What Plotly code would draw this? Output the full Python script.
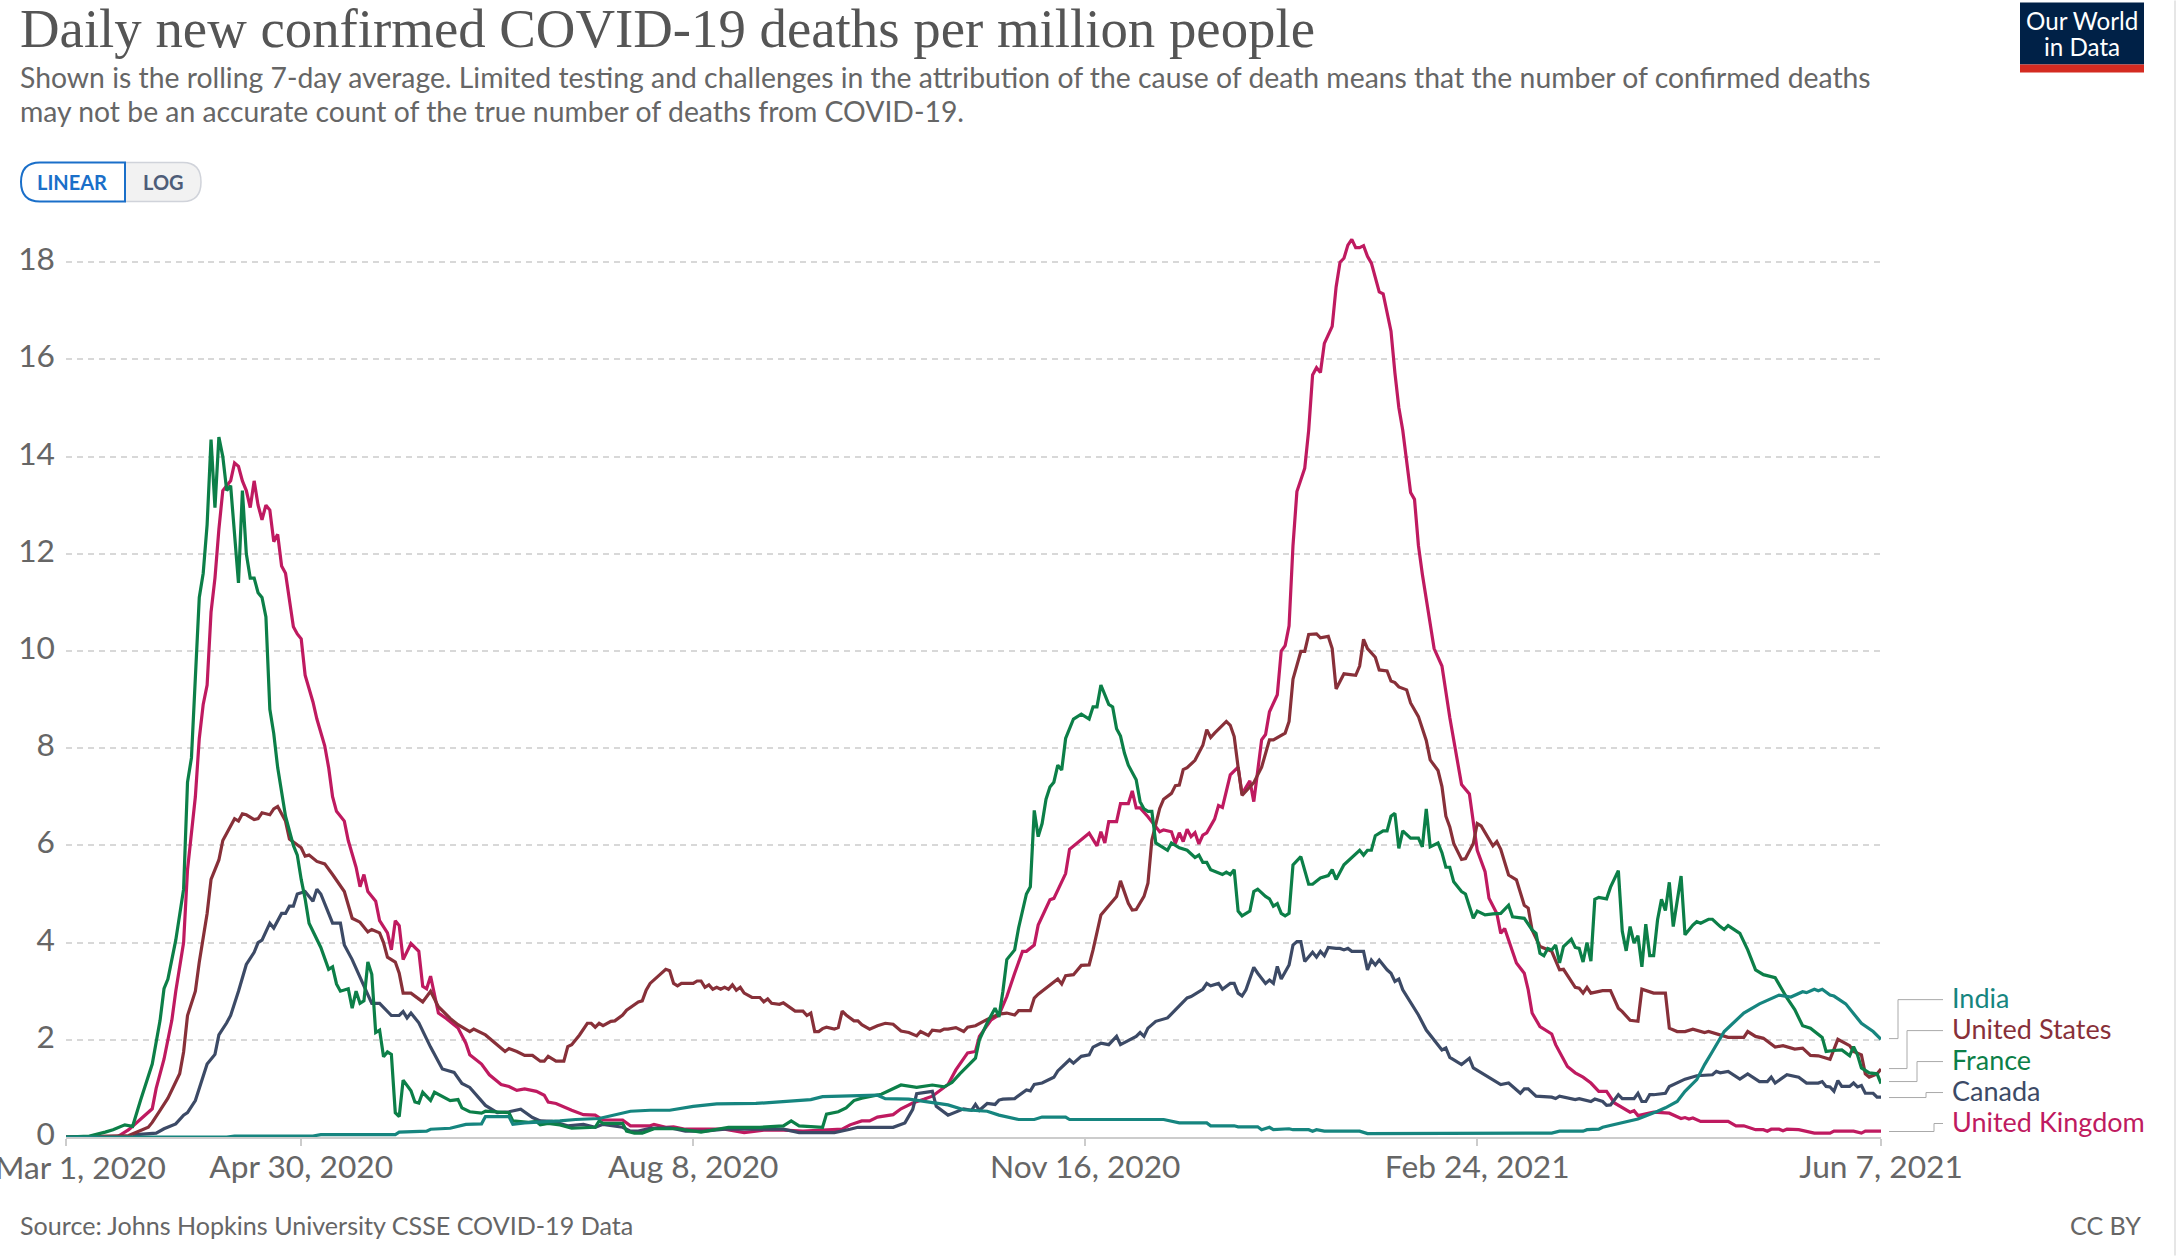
import pandas as pd
import plotly.graph_objects as go

W, H = 2178, 1256
LEFT, RIGHT, ZERO_Y, UNIT = 66, 1881, 1137.5, 48.65
Y_MAX = 18.6

START = "2020-03-01"
END = "2021-06-07"

y_ticks = [0, 2, 4, 6, 8, 10, 12, 14, 16, 18]
x_ticks = ["2020-03-01", "2020-04-30", "2020-08-08", "2020-11-16", "2021-02-24", "2021-06-07"]
x_labels = ["Mar 1, 2020", "Apr 30, 2020", "Aug 8, 2020", "Nov 16, 2020", "Feb 24, 2021", "Jun 7, 2021"]

# (days since Mar 1 2020, deaths per million)
india = [
    (0, 0), (41, 0), (43, 0.02), (63, 0.02), (65, 0.05), (84, 0.05), (85, 0.1), (92, 0.12), (93, 0.16), (98, 0.18),
    (102, 0.26), (106, 0.27), (107, 0.42), (113, 0.42), (114, 0.26), (117, 0.29), (126, 0.33), (130, 0.36),
    (136, 0.38), (140, 0.45), (144, 0.53), (149, 0.55), (154, 0.55), (160, 0.63), (166, 0.68), (176, 0.69),
    (178, 0.7), (183, 0.72), (190, 0.77), (193, 0.83), (198, 0.84), (202, 0.86), (207, 0.86), (209, 0.79),
    (215, 0.78), (225, 0.66), (229, 0.56), (235, 0.53), (238, 0.45), (243, 0.36), (247, 0.36), (249, 0.41),
    (255, 0.41), (256, 0.36), (280, 0.36), (284, 0.29), (291, 0.29), (292, 0.23), (298, 0.23), (299, 0.21),
    (304, 0.21), (305, 0.15), (307, 0.2), (308, 0.15), (312, 0.17), (313, 0.15), (317, 0.15), (318, 0.12),
    (319, 0.15), (321, 0.12), (330, 0.12), (332, 0.07), (379, 0.08), (381, 0.12), (387, 0.12), (388, 0.15),
    (391, 0.16), (392, 0.2), (396, 0.27), (398, 0.32), (401, 0.37), (406, 0.53), (408, 0.6), (411, 0.73),
    (413, 0.94), (416, 1.18), (418, 1.49), (420, 1.76), (423, 2.17), (428, 2.55), (432, 2.74), (437, 2.92),
    (440, 2.88), (443, 2.99), (444, 2.97), (446, 3.04), (447, 3.01), (448, 3.04), (450, 2.92), (451, 2.9),
    (454, 2.74), (458, 2.34), (461, 2.17), (463, 2.01),
]

united_states = [
    (0, 0), (16, 0.03), (21, 0.2), (22, 0.3), (24, 0.55), (26, 0.8), (29, 1.3), (30, 1.75), (31, 2.5), (33, 3.0),
    (34, 3.6), (36, 4.6), (37, 5.3), (39, 5.7), (40, 6.1), (42, 6.4), (43, 6.55), (44, 6.5), (45, 6.65), (46, 6.63),
    (48, 6.53), (49, 6.55), (50, 6.67), (52, 6.63), (53, 6.75), (54, 6.8), (56, 6.5), (57, 6.13), (60, 5.95),
    (61, 5.78), (62, 5.8), (64, 5.67), (66, 5.62), (68, 5.4), (71, 5.05), (73, 4.5), (75, 4.42), (77, 4.22),
    (78, 4.27), (80, 4.2), (81, 4.0), (82, 3.7), (84, 3.6), (85, 3.37), (86, 2.96), (88, 2.96), (91, 2.78), (93, 3.0),
    (95, 2.68), (98, 2.44), (100, 2.31), (103, 2.17), (104, 2.22), (107, 2.1), (109, 1.97), (112, 1.76), (113, 1.82),
    (115, 1.76), (117, 1.68), (119, 1.68), (121, 1.56), (122, 1.56), (123, 1.66), (125, 1.56), (127, 1.56),
    (128, 1.86), (129, 1.9), (131, 2.1), (133, 2.34), (134, 2.34), (135, 2.26), (136, 2.34), (137, 2.29), (139, 2.38),
    (140, 2.39), (142, 2.51), (143, 2.61), (146, 2.78), (147, 2.8), (148, 3.02), (149, 3.16), (151, 3.3), (153, 3.45),
    (154, 3.42), (155, 3.16), (156, 3.11), (157, 3.16), (160, 3.16), (161, 3.21), (162, 3.21), (163, 3.08), (164, 3.13),
    (165, 3.04), (166, 3.08), (167, 3.04), (168, 3.08), (169, 3.04), (170, 3.13), (171, 3.02), (172, 3.08), (173, 2.96),
    (175, 2.87), (177, 2.87), (178, 2.78), (179, 2.84), (180, 2.75), (182, 2.73), (183, 2.76), (185, 2.65), (186, 2.59),
    (188, 2.59), (189, 2.5), (190, 2.55), (191, 2.17), (192, 2.17), (193, 2.23), (194, 2.26), (196, 2.22), (197, 2.25),
    (198, 2.59), (199, 2.51), (201, 2.39), (202, 2.39), (203, 2.31), (205, 2.22), (207, 2.29), (209, 2.34), (211, 2.32),
    (213, 2.18), (215, 2.15), (217, 2.08), (218, 2.17), (220, 2.09), (221, 2.2), (223, 2.18), (224, 2.22), (225, 2.22),
    (227, 2.25), (229, 2.17), (230, 2.26), (232, 2.29), (235, 2.42), (238, 2.53), (240, 2.55), (242, 2.51), (243, 2.6),
    (246, 2.6), (247, 2.86), (248, 2.94), (251, 3.13), (253, 3.25), (254, 3.15), (255, 3.32), (257, 3.34), (259, 3.53),
    (261, 3.54), (262, 3.85), (264, 4.57), (268, 4.95), (269, 5.27), (271, 4.81), (272, 4.67), (273, 4.68), (275, 4.95),
    (276, 5.22), (277, 6.11), (279, 6.76), (280, 6.95), (282, 7.07), (283, 7.23), (284, 7.24), (285, 7.56), (286, 7.6),
    (288, 7.75), (290, 8.06), (291, 8.38), (292, 8.22), (293, 8.31), (294, 8.39), (296, 8.55), (297, 8.47), (298, 8.24),
    (299, 7.61), (300, 7.03), (303, 7.29), (305, 7.61), (307, 8.17), (308, 8.17), (311, 8.31), (312, 8.55), (313, 9.42),
    (315, 9.99), (316, 9.99), (317, 10.34), (319, 10.35), (320, 10.27), (322, 10.3), (323, 10.05), (324, 9.22),
    (326, 9.53), (329, 9.5), (330, 9.69), (331, 10.24), (332, 10.05), (334, 9.87), (335, 9.61), (337, 9.59), (338, 9.38),
    (339, 9.35), (340, 9.26), (342, 9.2), (343, 8.93), (345, 8.65), (347, 8.16), (348, 7.76), (350, 7.54), (351, 7.21),
    (352, 6.6), (353, 6.38), (354, 6.04), (356, 5.71), (357, 5.73), (359, 6.04), (360, 6.45), (361, 6.4), (363, 6.11),
    (364, 5.99), (365, 6.08), (366, 5.92), (368, 5.39), (370, 5.29), (372, 4.77), (373, 4.71), (374, 4.26), (376, 3.92),
    (379, 3.82), (381, 3.44), (382, 3.45), (384, 3.2), (385, 3.08), (386, 3.06), (387, 2.96), (388, 3.08), (389, 2.96),
    (392, 3.01), (394, 3.01), (396, 2.65), (397, 2.58), (399, 2.4), (401, 2.38), (402, 3.04), (404, 2.99), (405, 2.96),
    (408, 2.96), (409, 2.24), (411, 2.17), (413, 2.17), (415, 2.22), (418, 2.15), (419, 2.17), (421, 2.12), (424, 2.05),
    (428, 2.05), (429, 2.17), (431, 2.07), (433, 2.03), (436, 1.85), (438, 1.88), (441, 1.81), (443, 1.83), (445, 1.68),
    (447, 1.67), (450, 1.6), (452, 2.01), (455, 1.88), (456, 1.76), (458, 1.69), (459, 1.3), (460, 1.23), (462, 1.3),
    (463, 1.4),
]

france = [
    (0, 0), (6, 0.02), (10, 0.1), (12, 0.15), (15, 0.25), (17, 0.22), (19, 0.75), (22, 1.5), (24, 2.4), (25, 3.05),
    (26, 3.25), (28, 4.05), (30, 5.1), (31, 7.3), (32, 7.8), (33, 9.3), (34, 11.1), (35, 11.6), (36, 12.6), (37, 14.35),
    (38, 12.95), (39, 14.4), (40, 14.0), (41, 13.3), (42, 13.4), (44, 11.4), (45, 13.3), (46, 12.0), (47, 11.5),
    (48, 11.5), (49, 11.2), (50, 11.1), (51, 10.7), (52, 8.8), (53, 8.3), (54, 7.6), (55, 7.05), (56, 6.6), (58, 6.0),
    (59, 5.8), (60, 5.3), (61, 4.9), (62, 4.4), (64, 4.05), (65, 3.9), (67, 3.45), (68, 3.5), (69, 3.15), (70, 3.0),
    (72, 3.05), (73, 2.65), (74, 3.0), (75, 2.75), (76, 2.8), (77, 3.6), (78, 3.35), (79, 2.15), (80, 2.2), (81, 1.65),
    (82, 1.75), (83, 1.7), (84, 0.5), (85, 0.42), (86, 1.17), (88, 0.95), (89, 0.72), (90, 0.7), (91, 0.92), (93, 0.75),
    (94, 0.92), (98, 0.75), (100, 0.77), (101, 0.6), (103, 0.52), (106, 0.49), (107, 0.53), (113, 0.5), (114, 0.33),
    (118, 0.3), (120, 0.32), (121, 0.25), (123, 0.28), (126, 0.25), (129, 0.18), (135, 0.2), (136, 0.33), (137, 0.28),
    (142, 0.28), (143, 0.12), (145, 0.08), (147, 0.08), (150, 0.17), (156, 0.17), (162, 0.1), (169, 0.2), (177, 0.2),
    (183, 0.23), (185, 0.33), (187, 0.23), (193, 0.2), (194, 0.47), (197, 0.52), (199, 0.6), (201, 0.75), (203, 0.8),
    (208, 0.88), (213, 1.07), (217, 1.02), (221, 1.07), (224, 1.03), (226, 1.12), (228, 1.3), (232, 1.62), (233, 2.0),
    (235, 2.35), (237, 2.65), (238, 2.47), (239, 3.0), (240, 3.65), (242, 3.85), (243, 4.3), (245, 5.0), (246, 5.15),
    (247, 6.72), (248, 6.18), (249, 6.45), (250, 6.95), (251, 7.2), (252, 7.3), (253, 7.65), (254, 7.55), (255, 8.2),
    (256, 8.4), (257, 8.6), (259, 8.7), (261, 8.6), (262, 8.85), (263, 8.85), (264, 9.3), (266, 8.9), (267, 8.85),
    (268, 8.4), (269, 8.25), (270, 7.9), (271, 7.65), (272, 7.5), (273, 7.35), (274, 6.9), (275, 6.75), (276, 6.7),
    (277, 6.7), (278, 6.05), (279, 6.0), (281, 5.9), (282, 6.05), (284, 5.95), (286, 5.9), (288, 5.75), (289, 5.8),
    (290, 5.65), (291, 5.65), (292, 5.5), (295, 5.4), (296, 5.45), (297, 5.4), (298, 5.5), (299, 4.65), (300, 4.55),
    (302, 4.65), (303, 5.05), (304, 5.1), (306, 4.95), (307, 4.9), (308, 4.75), (309, 4.8), (310, 4.6), (311, 4.55),
    (312, 4.6), (313, 5.6), (315, 5.77), (317, 5.2), (318, 5.2), (320, 5.33), (322, 5.38), (323, 5.5), (324, 5.3),
    (326, 5.6), (328, 5.75), (330, 5.9), (331, 5.8), (332, 5.9), (333, 5.9), (334, 6.2), (336, 6.3), (337, 6.3),
    (338, 6.6), (339, 6.66), (340, 5.94), (341, 6.3), (343, 6.15), (345, 6.15), (346, 5.97), (347, 6.75), (348, 5.97),
    (350, 6.05), (351, 5.85), (352, 5.55), (353, 5.55), (354, 5.25), (356, 5.05), (357, 5.0), (358, 4.75), (359, 4.5),
    (360, 4.65), (362, 4.57), (364, 4.59), (366, 4.6), (368, 4.77), (369, 4.53), (372, 4.5), (374, 4.26), (375, 4.19),
    (376, 3.78), (377, 3.73), (378, 3.88), (379, 3.85), (380, 3.95), (381, 3.58), (382, 3.92), (384, 4.07), (385, 3.9),
    (386, 3.88), (387, 3.6), (388, 4.0), (389, 3.62), (390, 4.89), (391, 4.93), (393, 4.9), (394, 5.14), (396, 5.48),
    (397, 4.23), (398, 3.83), (399, 4.33), (400, 3.99), (401, 4.14), (402, 3.5), (403, 4.38), (404, 3.73), (405, 3.73),
    (406, 4.47), (407, 4.89), (408, 4.66), (409, 5.24), (410, 4.33), (412, 5.37), (413, 4.16), (415, 4.36), (416, 4.43),
    (417, 4.4), (419, 4.48), (420, 4.48), (422, 4.33), (423, 4.27), (424, 4.35), (427, 4.19), (429, 3.85), (431, 3.44),
    (433, 3.34), (436, 3.28), (439, 2.86), (441, 2.62), (443, 2.29), (445, 2.24), (448, 2.05), (449, 1.76), (451, 1.78),
    (453, 1.79), (455, 1.67), (456, 1.86), (457, 1.69), (458, 1.42), (460, 1.32), (462, 1.3), (463, 1.1),
]

canada = [
    (0, 0), (17, 0), (18, 0.05), (23, 0.08), (25, 0.17), (28, 0.27), (30, 0.45), (31, 0.5), (33, 0.75), (35, 1.25),
    (36, 1.5), (38, 1.7), (39, 2.1), (41, 2.35), (42, 2.5), (44, 3.0), (46, 3.55), (48, 3.8), (49, 4.0), (50, 4.05),
    (52, 4.4), (53, 4.3), (55, 4.6), (56, 4.6), (57, 4.75), (58, 4.75), (59, 5.0), (61, 5.05), (63, 4.85), (64, 5.1),
    (65, 5.0), (67, 4.6), (68, 4.4), (70, 4.4), (71, 3.95), (73, 3.65), (75, 3.3), (78, 2.75), (80, 2.75), (83, 2.5),
    (85, 2.5), (86, 2.58), (87, 2.45), (88, 2.55), (90, 2.35), (93, 1.85), (96, 1.4), (99, 1.33), (101, 1.1), (103, 1.02),
    (107, 0.65), (110, 0.5), (113, 0.52), (116, 0.57), (119, 0.4), (121, 0.33), (124, 0.32), (128, 0.23), (132, 0.26),
    (135, 0.2), (137, 0.26), (142, 0.2), (144, 0.12), (146, 0.12), (149, 0.18), (154, 0.19), (158, 0.12), (163, 0.12),
    (168, 0.16), (178, 0.16), (183, 0.16), (187, 0.09), (196, 0.09), (200, 0.16), (202, 0.2), (211, 0.2), (214, 0.29),
    (216, 0.57), (217, 0.89), (221, 0.94), (222, 0.63), (225, 0.45), (229, 0.58), (231, 0.55), (232, 0.67), (233, 0.55),
    (235, 0.69), (237, 0.67), (238, 0.76), (239, 0.78), (242, 0.79), (245, 0.97), (246, 0.95), (247, 1.08), (249, 1.11),
    (252, 1.23), (253, 1.36), (256, 1.59), (257, 1.52), (259, 1.66), (261, 1.69), (262, 1.85), (264, 1.93), (266, 1.9),
    (268, 2.07), (269, 1.9), (273, 2.07), (274, 2.15), (275, 2.07), (276, 2.24), (278, 2.38), (281, 2.45), (283, 2.62),
    (286, 2.86), (287, 2.89), (290, 3.04), (291, 3.16), (292, 3.11), (294, 3.16), (295, 3.04), (297, 3.16), (298, 3.16),
    (299, 2.96), (300, 2.9), (301, 3.03), (303, 3.49), (304, 3.37), (306, 3.16), (307, 3.23), (308, 3.16), (309, 3.51),
    (310, 3.25), (312, 3.54), (313, 3.95), (314, 4.02), (315, 4.02), (316, 3.61), (318, 3.8), (319, 3.7), (320, 3.82),
    (321, 3.73), (322, 3.9), (324, 3.88), (325, 3.88), (326, 3.85), (327, 3.88), (328, 3.82), (331, 3.82), (332, 3.44),
    (333, 3.64), (334, 3.54), (335, 3.64), (337, 3.44), (338, 3.37), (339, 3.2), (340, 3.25), (341, 3.03), (344, 2.62),
    (345, 2.51), (347, 2.2), (351, 1.79), (352, 1.83), (353, 1.64), (356, 1.49), (358, 1.62), (359, 1.42), (362, 1.28),
    (366, 1.08), (368, 1.11), (371, 0.9), (372, 0.99), (373, 0.99), (375, 0.84), (379, 0.82), (380, 0.79), (381, 0.84),
    (385, 0.77), (386, 0.79), (389, 0.73), (390, 0.78), (392, 0.73), (393, 0.65), (394, 0.66), (396, 0.87), (397, 0.79),
    (400, 0.79), (401, 0.9), (402, 0.73), (403, 0.73), (404, 0.87), (405, 0.87), (408, 0.9), (409, 1.04), (413, 1.19),
    (416, 1.26), (420, 1.28), (421, 1.35), (422, 1.32), (424, 1.35), (427, 1.19), (429, 1.3), (432, 1.14), (434, 1.14),
    (435, 1.23), (436, 1.11), (439, 1.28), (442, 1.23), (444, 1.11), (447, 1.11), (448, 1.14), (449, 1.04), (450, 1.03),
    (451, 0.94), (452, 1.16), (453, 1.04), (455, 1.04), (456, 1.11), (457, 1.03), (458, 1.06), (459, 0.9), (461, 0.9),
    (462, 0.82), (463, 0.82),
]

united_kingdom = [
    (0, 0), (13, 0), (16, 0.15), (18, 0.3), (22, 0.58), (23, 1.0), (25, 1.6), (27, 2.4), (28, 3.0), (30, 4.0), (31, 5.5),
    (33, 7.0), (34, 8.2), (35, 8.9), (36, 9.3), (37, 10.8), (38, 11.5), (39, 12.5), (40, 13.3), (42, 13.5), (43, 13.87),
    (44, 13.8), (45, 13.5), (46, 13.3), (47, 12.95), (48, 13.5), (49, 13.0), (50, 12.7), (51, 13.0), (52, 12.9), (53, 12.25),
    (54, 12.4), (55, 11.75), (56, 11.6), (57, 11.0), (58, 10.5), (59, 10.35), (60, 10.25), (61, 9.5), (63, 8.95), (64, 8.6),
    (66, 8.05), (67, 7.6), (68, 7.0), (69, 6.7), (71, 6.5), (72, 6.1), (73, 5.8), (74, 5.55), (75, 5.15), (76, 5.4),
    (77, 5.05), (79, 4.85), (80, 4.45), (82, 4.2), (83, 3.85), (84, 4.45), (85, 4.35), (86, 3.65), (88, 3.98), (90, 3.82),
    (91, 3.1), (92, 3.05), (93, 3.31), (95, 2.55), (97, 2.44), (100, 2.24), (102, 1.93), (103, 1.69), (106, 1.5), (108, 1.28),
    (111, 1.08), (113, 1.04), (115, 0.96), (117, 0.99), (120, 0.94), (122, 0.86), (123, 0.72), (125, 0.69), (129, 0.55),
    (132, 0.46), (135, 0.45), (137, 0.35), (142, 0.35), (144, 0.23), (149, 0.23), (150, 0.26), (153, 0.2), (155, 0.21),
    (158, 0.16), (163, 0.16), (168, 0.16), (173, 0.09), (178, 0.14), (183, 0.14), (188, 0.12), (198, 0.16), (200, 0.25),
    (203, 0.33), (205, 0.33), (207, 0.41), (211, 0.46), (213, 0.58), (216, 0.7), (219, 0.78), (221, 0.84), (225, 1.08),
    (227, 1.38), (230, 1.73), (232, 1.76), (233, 2.07), (236, 2.41), (238, 2.51), (240, 2.89), (242, 3.37), (244, 3.82),
    (245, 3.82), (247, 3.95), (248, 4.36), (251, 4.88), (252, 4.91), (255, 5.42), (256, 5.92), (259, 6.11), (261, 6.25),
    (263, 5.99), (264, 6.28), (265, 6.05), (266, 6.49), (268, 6.49), (269, 6.86), (271, 6.86), (272, 7.12), (273, 6.77),
    (274, 6.77), (276, 6.59), (278, 6.38), (279, 6.28), (280, 6.32), (282, 6.28), (283, 6.04), (284, 6.26), (285, 6.08),
    (286, 6.33), (287, 6.18), (288, 6.26), (289, 6.03), (290, 6.21), (291, 6.26), (293, 6.54), (294, 6.82), (295, 6.78),
    (297, 7.45), (299, 7.61), (300, 7.06), (302, 7.33), (303, 6.9), (305, 8.17), (306, 8.28), (307, 8.75), (309, 9.1),
    (310, 10.0), (311, 10.11), (312, 10.52), (313, 12.17), (314, 13.28), (316, 13.76), (317, 14.54), (318, 15.68), (319, 15.83),
    (320, 15.73), (321, 16.33), (323, 16.68), (324, 17.49), (325, 18.0), (326, 18.08), (327, 18.35), (328, 18.47), (329, 18.3),
    (330, 18.3), (331, 18.34), (332, 18.12), (333, 17.98), (335, 17.39), (336, 17.35), (338, 16.58), (339, 15.72), (340, 15.01),
    (341, 14.54), (343, 13.26), (344, 13.12), (345, 12.17), (346, 11.58), (348, 10.52), (349, 10.05), (351, 9.69), (353, 8.63),
    (356, 7.25), (358, 7.06), (360, 5.9), (362, 5.46), (363, 4.91), (365, 4.6), (366, 4.19), (367, 4.29), (370, 3.58),
    (372, 3.37), (373, 3.03), (374, 2.55), (376, 2.27), (379, 2.12), (380, 1.9), (383, 1.45), (385, 1.32), (387, 1.23),
    (389, 1.11), (391, 0.94), (393, 0.94), (395, 0.7), (399, 0.51), (400, 0.54), (401, 0.44), (405, 0.51), (409, 0.49),
    (412, 0.38), (413, 0.4), (414, 0.37), (415, 0.39), (417, 0.32), (424, 0.32), (426, 0.23), (428, 0.23), (431, 0.15),
    (433, 0.15), (434, 0.12), (435, 0.16), (437, 0.16), (438, 0.13), (439, 0.16), (442, 0.15), (446, 0.08), (450, 0.08),
    (451, 0.12), (456, 0.12), (458, 0.08), (459, 0.12), (463, 0.12),
]

series = [
    ("United Kingdom", united_kingdom, "#bf1a60"),
    ("Canada", canada, "#3c4a66"),
    ("United States", united_states, "#883039"),
    ("France", france, "#0c7f48"),
    ("India", india, "#16857f"),
]


def px(x):
    return (x - LEFT) / (RIGHT - LEFT)


def py(y):
    top = ZERO_Y - Y_MAX * UNIT
    return 1 - (y - top) / (Y_MAX * UNIT)


def text(x, y, s, size, color, family="Lato", xanchor="left", weight=None):
    fig.add_annotation(
        x=px(x), y=py(y), xref="paper", yref="paper", text=s, showarrow=False,
        xanchor=xanchor, yanchor="middle", align="left",
        font=dict(family=family, size=size, color=color, weight=weight),
    )


def rect(x0, y0, x1, y1, fill):
    fig.add_shape(
        type="rect", xref="paper", yref="paper", layer="below",
        x0=px(x0), x1=px(x1), y0=py(y0), y1=py(y1), fillcolor=fill, line=dict(width=0),
    )


fig = go.Figure()
base = pd.Timestamp(START)

for name, points, color in series:
    days = [p[0] for p in points]
    values = [p[1] for p in points]
    dates = [base + pd.Timedelta(days=d) for d in days]
    fig.add_trace(go.Scatter(x=dates, y=values, mode="lines", name=name,
                             line=dict(color=color, width=3.2), showlegend=False))

fig.update_layout(
    width=W, height=H,
    margin=dict(l=LEFT, r=W - RIGHT, t=ZERO_Y - Y_MAX * UNIT, b=H - ZERO_Y, pad=0),
    paper_bgcolor="white", plot_bgcolor="white",
    showlegend=False,
)
fig.update_xaxes(
    type="date", range=[START, END],
    tickmode="array", tickvals=x_ticks, ticktext=[""] + x_labels[1:],
    ticks="outside", ticklen=7, tickcolor="#cccccc", tickwidth=1.5, ticklabelstandoff=-6,
    showgrid=False, showline=True, linecolor="#cccccc", linewidth=1.5, zeroline=False,
    tickfont=dict(family="Lato", size=31.7, color="#666666"),
)
fig.update_yaxes(
    range=[0, Y_MAX], tickmode="array", tickvals=y_ticks,
    ticks="", showline=False, zeroline=False, ticklabelstandoff=10, ticklabelshift=-3,
    showgrid=True, gridcolor="#d8d8d8", griddash="6px,4.96px", gridwidth=1.5,
    tickfont=dict(family="Lato", size=31.7, color="#666666"),
)

# header
text(18, 28, "Daily new confirmed COVID-19 deaths per million people", 54.8, "#555555", family="Liberation Serif")
text(18, 76, "Shown is the rolling 7-day average. Limited testing and challenges in the attribution of the cause of death means that the number of confirmed deaths", 28.35, "#666666")
text(18, 110, "may not be an accurate count of the true number of deaths from COVID-19.", 28.35, "#666666")

# linear / log toggle
fig.add_shape(type="path", xref="paper", yref="paper",
              path=f"M {px(125)} {py(162)} L {px(183)} {py(162)} Q {px(201)} {py(162)} {px(201)} {py(181.5)} "
                   f"Q {px(201)} {py(201)} {px(183)} {py(201)} L {px(125)} {py(201)} Z",
              fillcolor="#f2f2f2", line=dict(color="#d0d3da", width=1.5))
fig.add_shape(type="path", xref="paper", yref="paper",
              path=f"M {px(40)} {py(162)} L {px(125)} {py(162)} L {px(125)} {py(201)} L {px(40)} {py(201)} "
                   f"Q {px(21)} {py(201)} {px(21)} {py(181.5)} Q {px(21)} {py(162)} {px(40)} {py(162)} Z",
              fillcolor="white", line=dict(color="#1a6fc9", width=2))
text(72, 182, "LINEAR", 20, "#1a6fc9", xanchor="center", weight=700)
text(163, 182, "LOG", 20, "#4e5d78", xanchor="center", weight=700)

# logo
rect(2020, 2, 2144, 64, "#002147")
rect(2020, 64, 2144, 72, "#d42b21")
text(2082, 20, "Our World", 24.2, "white", xanchor="center")
text(2082, 46, "in Data", 24.2, "white", xanchor="center")

# first x label sits inside the page edge, not centred on its tick
text(80, 1168, x_labels[0], 31.7, "#666666", xanchor="center")

# end labels with connectors
label_rows = [
    ("India", "#16857f", 998, 1039, 1898),
    ("United States", "#883039", 1029, 1069, 1907),
    ("France", "#0c7f48", 1060, 1082, 1917),
    ("Canada", "#3c4a66", 1091, 1098, 1926),
    ("United Kingdom", "#bf1a60", 1122, 1132, 1934),
]
for label, color, label_y, line_y, bend in label_rows:
    text(1949.5, label_y, label, 27, color)
    fig.add_shape(type="path", xref="paper", yref="paper",
                  path=f"M {px(1889)} {py(line_y)} L {px(bend)} {py(line_y)} L {px(bend)} {py(label_y + 2)} L {px(1943)} {py(label_y + 2)}",
                  line=dict(color="#aaaaaa", width=1))

# footer
text(18, 1226, "Source: Johns Hopkins University CSSE COVID-19 Data", 25.1, "#666666")
text(2143, 1226, "CC BY", 25.1, "#666666", xanchor="right")

# frame edge on the right of the page
fig.add_shape(type="line", xref="paper", yref="paper", x0=px(2175), x1=px(2175), y0=py(H), y1=py(0),
              line=dict(color="#e6e6e6", width=2))

fig.write_html("out.html", config={"displayModeBar": False},
               post_script="document.body.style.margin='0';document.body.style.overflow='hidden';")
